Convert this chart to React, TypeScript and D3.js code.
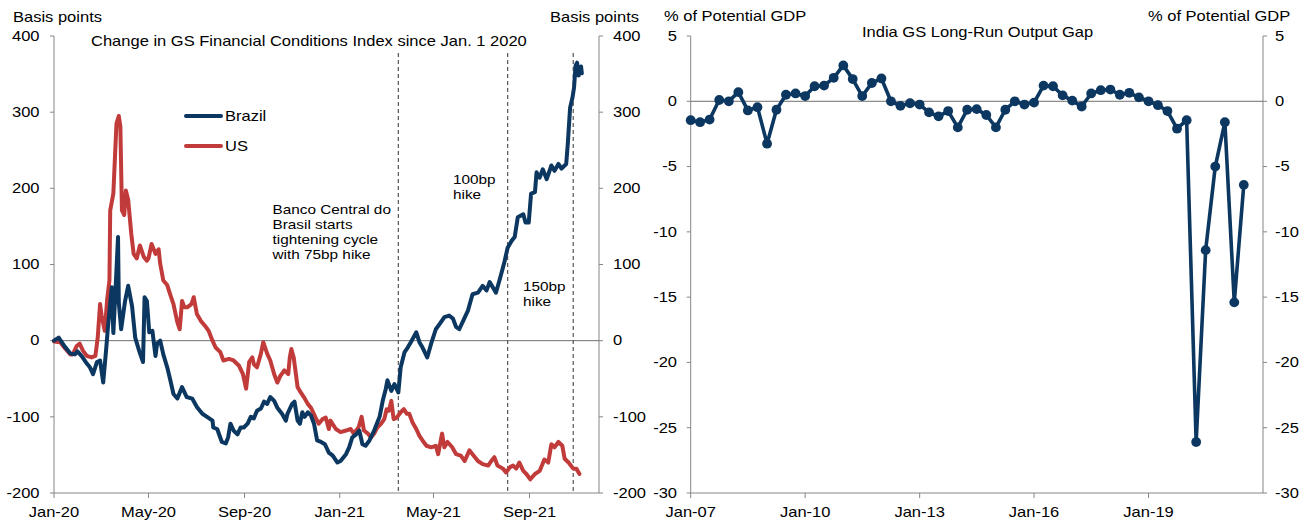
import React from "react";
import * as d3 from "d3";

// ---------- Left chart data (change in GS FCI since Jan. 1 2020, bp) ----------
const brazilSeries: [string, number][] = [
  ["2020-01-01", 0], ["2020-01-07", 4], ["2020-01-15", -8], ["2020-01-22", -17], ["2020-01-28", -18], ["2020-01-31", -14],
  ["2020-02-06", -21], ["2020-02-12", -30], ["2020-02-16", -35], ["2020-02-20", -44], ["2020-02-25", -28], ["2020-02-29", -26],
  ["2020-03-04", -55], ["2020-03-08", -9], ["2020-03-10", 17], ["2020-03-15", 70], ["2020-03-17", 10], ["2020-03-21", 92],
  ["2020-03-23", 136], ["2020-03-24", 50], ["2020-03-27", 15], ["2020-04-01", 52], ["2020-04-05", 72], ["2020-04-10", 45],
  ["2020-04-14", 4], ["2020-04-19", -13], ["2020-04-24", -28], ["2020-04-26", 57], ["2020-04-29", 52], ["2020-05-02", 11],
  ["2020-05-06", 13], ["2020-05-10", -20], ["2020-05-12", -4], ["2020-05-16", 0], ["2020-05-20", -18], ["2020-05-25", -35],
  ["2020-05-29", -52], ["2020-06-02", -70], ["2020-06-07", -76], ["2020-06-13", -61], ["2020-06-19", -74], ["2020-06-26", -76],
  ["2020-07-02", -87], ["2020-07-09", -96], ["2020-07-15", -100], ["2020-07-22", -105], ["2020-07-23", -114], ["2020-07-28", -116],
  ["2020-08-03", -133], ["2020-08-08", -135], ["2020-08-11", -127], ["2020-08-14", -109], ["2020-08-18", -118], ["2020-08-23", -123],
  ["2020-08-27", -114], ["2020-08-31", -114], ["2020-09-05", -109], ["2020-09-09", -100], ["2020-09-13", -102], ["2020-09-17", -92],
  ["2020-09-22", -89], ["2020-09-26", -80], ["2020-09-30", -83], ["2020-10-04", -74], ["2020-10-09", -79], ["2020-10-13", -88],
  ["2020-10-19", -96], ["2020-10-24", -105], ["2020-10-26", -96], ["2020-11-01", -83], ["2020-11-04", -80], ["2020-11-08", -105],
  ["2020-11-11", -109], ["2020-11-14", -94], ["2020-11-17", -100], ["2020-11-21", -94], ["2020-11-25", -98], ["2020-11-29", -109],
  ["2020-12-03", -131], ["2020-12-08", -133], ["2020-12-13", -136], ["2020-12-18", -147], ["2020-12-23", -151], ["2020-12-29", -160],
  ["2021-01-02", -158], ["2021-01-09", -149], ["2021-01-13", -140], ["2021-01-17", -127], ["2021-01-22", -123], ["2021-01-26", -118],
  ["2021-01-30", -136], ["2021-02-03", -138], ["2021-02-08", -131], ["2021-02-14", -118], ["2021-02-21", -100], ["2021-02-25", -79],
  ["2021-03-01", -63], ["2021-03-03", -52], ["2021-03-08", -66], ["2021-03-12", -57], ["2021-03-17", -68], ["2021-03-20", -35],
  ["2021-03-25", -15], ["2021-03-29", -9], ["2021-04-02", -2], ["2021-04-09", 11], ["2021-04-13", -2], ["2021-04-17", -9],
  ["2021-04-23", -22], ["2021-04-28", -4], ["2021-05-04", 15], ["2021-05-09", 22], ["2021-05-15", 31], ["2021-05-21", 33],
  ["2021-05-26", 29], ["2021-05-30", 18], ["2021-06-03", 15], ["2021-06-08", 26], ["2021-06-14", 39], ["2021-06-20", 61],
  ["2021-06-27", 63], ["2021-07-03", 72], ["2021-07-08", 66], ["2021-07-12", 77], ["2021-07-16", 70], ["2021-07-20", 63],
  ["2021-07-25", 81], ["2021-07-29", 96], ["2021-07-31", 104], ["2021-08-04", 122], ["2021-08-09", 131], ["2021-08-13", 136],
  ["2021-08-17", 162], ["2021-08-24", 166], ["2021-08-27", 155], ["2021-08-31", 155], ["2021-09-03", 193], ["2021-09-08", 195],
  ["2021-09-10", 221], ["2021-09-14", 214], ["2021-09-18", 225], ["2021-09-23", 212], ["2021-09-29", 230], ["2021-10-03", 223],
  ["2021-10-08", 232], ["2021-10-12", 226], ["2021-10-18", 232], ["2021-10-20", 258], ["2021-10-23", 306], ["2021-10-26", 319],
  ["2021-10-28", 332], ["2021-10-30", 361], ["2021-11-01", 365], ["2021-11-03", 348], ["2021-11-06", 360], ["2021-11-07", 351],
];

const usSeries: [string, number][] = [
  ["2020-01-01", -1], ["2020-01-09", -2], ["2020-01-15", -10], ["2020-01-22", -18], ["2020-01-25", -18], ["2020-01-30", -7],
  ["2020-02-03", -4], ["2020-02-07", -13], ["2020-02-12", -20], ["2020-02-18", -22], ["2020-02-23", -20], ["2020-02-26", 4],
  ["2020-02-29", 48], ["2020-03-02", 33], ["2020-03-06", 13], ["2020-03-09", 53], ["2020-03-12", 79], ["2020-03-13", 171],
  ["2020-03-17", 193], ["2020-03-21", 285], ["2020-03-24", 295], ["2020-03-26", 281], ["2020-03-28", 171], ["2020-03-31", 165],
  ["2020-04-02", 197], ["2020-04-05", 185], ["2020-04-09", 140], ["2020-04-12", 114], ["2020-04-16", 108], ["2020-04-20", 125],
  ["2020-04-25", 110], ["2020-04-29", 105], ["2020-05-01", 108], ["2020-05-05", 127], ["2020-05-10", 114], ["2020-05-14", 120],
  ["2020-05-16", 101], ["2020-05-20", 79], ["2020-05-25", 73], ["2020-05-29", 60], ["2020-06-02", 48], ["2020-06-07", 24],
  ["2020-06-10", 15], ["2020-06-13", 52], ["2020-06-16", 44], ["2020-06-20", 44], ["2020-06-25", 48], ["2020-06-28", 57],
  ["2020-07-02", 35], ["2020-07-07", 26], ["2020-07-12", 20], ["2020-07-17", 13], ["2020-07-22", 0], ["2020-07-26", -9],
  ["2020-08-01", -15], ["2020-08-05", -26], ["2020-08-12", -24], ["2020-08-18", -26], ["2020-08-25", -33], ["2020-08-30", -44],
  ["2020-09-03", -63], ["2020-09-07", -28], ["2020-09-11", -22], ["2020-09-13", -31], ["2020-09-17", -35], ["2020-09-22", -17],
  ["2020-09-25", -2], ["2020-09-30", -17], ["2020-10-04", -26], ["2020-10-09", -44], ["2020-10-13", -55], ["2020-10-17", -46],
  ["2020-10-22", -39], ["2020-10-27", -44], ["2020-10-29", -22], ["2020-10-31", -11], ["2020-11-03", -22], ["2020-11-08", -61],
  ["2020-11-12", -68], ["2020-11-16", -74], ["2020-11-21", -83], ["2020-11-25", -88], ["2020-12-01", -101], ["2020-12-05", -109],
  ["2020-12-10", -103], ["2020-12-14", -101], ["2020-12-18", -116], ["2020-12-20", -105], ["2020-12-27", -116],
  ["2021-01-02", -120], ["2021-01-09", -118], ["2021-01-15", -116], ["2021-01-19", -122], ["2021-01-25", -114], ["2021-01-29", -100],
  ["2021-02-01", -118], ["2021-02-06", -122], ["2021-02-10", -127], ["2021-02-14", -122], ["2021-02-18", -114], ["2021-02-23", -109],
  ["2021-02-27", -103], ["2021-03-02", -90], ["2021-03-05", -92], ["2021-03-08", -79], ["2021-03-11", -103], ["2021-03-15", -101],
  ["2021-03-20", -94], ["2021-03-24", -90], ["2021-03-28", -96], ["2021-03-31", -96], ["2021-04-04", -107], ["2021-04-09", -116],
  ["2021-04-13", -125], ["2021-04-17", -131], ["2021-04-22", -138], ["2021-04-28", -140], ["2021-05-04", -138], ["2021-05-07", -149],
  ["2021-05-12", -122], ["2021-05-15", -140], ["2021-05-19", -133], ["2021-05-25", -140], ["2021-05-30", -149], ["2021-06-05", -151],
  ["2021-06-10", -158], ["2021-06-16", -144], ["2021-06-20", -149], ["2021-06-27", -158], ["2021-07-03", -162], ["2021-07-10", -164],
  ["2021-07-14", -158], ["2021-07-18", -153], ["2021-07-22", -164], ["2021-07-29", -168], ["2021-08-02", -173], ["2021-08-07", -166],
  ["2021-08-11", -164], ["2021-08-15", -168], ["2021-08-19", -160], ["2021-08-24", -171], ["2021-08-28", -175], ["2021-09-02", -182],
  ["2021-09-08", -175], ["2021-09-14", -171], ["2021-09-20", -156], ["2021-09-25", -160], ["2021-09-29", -136], ["2021-10-03", -140],
  ["2021-10-08", -133], ["2021-10-13", -138], ["2021-10-16", -155], ["2021-10-21", -160], ["2021-10-27", -168], ["2021-10-31", -168],
  ["2021-11-04", -175],
];

const hikeDates = ["2021-03-17", "2021-08-04", "2021-10-27"];
const leftYTicks = [-200, -100, 0, 100, 200, 300, 400];
const leftXTicks = ["2020-01-01", "2020-05-01", "2020-09-01", "2021-01-01", "2021-05-01", "2021-09-01"];
const leftXDomain = ["2020-01-01", "2021-11-29"];
const leftTitle = "Change in GS Financial Conditions Index since Jan. 1 2020";
const leftAxisTitle = "Basis points";
const bcbNote = ["Banco Central do", "Brasil starts", "tightening cycle", "with 75bp hike"];
const hike100Note = ["100bp", "hike"];
const hike150Note = ["150bp", "hike"];

// ---------- Right chart data (India GS long-run output gap, % of potential GDP), quarterly from 2007Q1 ----------
const indiaStart = "2007-01-01";
const indiaGap = [
  -1.45, -1.6, -1.4, 0.1, 0.0, 0.7, -0.7, -0.45, -3.25, -0.65,
  0.5, 0.6, 0.4, 1.15, 1.2, 1.8, 2.75, 1.7, 0.4, 1.4,
  1.75, 0.0, -0.35, -0.15, -0.25, -0.85, -1.15, -0.75, -2.0, -0.65,
  -0.6, -1.05, -2.0, -0.65, 0.0, -0.25, -0.1, 1.2, 1.15, 0.45,
  0.05, -0.4, 0.6, 0.85, 0.9, 0.5, 0.65, 0.3, 0.0, -0.3,
  -0.75, -2.1, -1.45, -26.1, -11.4, -5.0, -1.6, -15.4, -6.4,
];
const rightYTicks = [-30, -25, -20, -15, -10, -5, 0, 5];
const rightXTicks = ["2007-01-01", "2010-01-01", "2013-01-01", "2016-01-01", "2019-01-01"];
const rightXDomain = ["2007-01-01", "2022-01-01"];
const rightTitle = "India GS Long-Run Output Gap";
const rightAxisTitle = "% of Potential GDP";

// ---------- styling ----------
const NAVY = "#0b3760";
const RED = "#c23b3b";
const AXIS = "#868686";
const FONT = "'Liberation Sans', Arial, Helvetica, sans-serif";
const SX = 1.18;
const FS = 14;

const parse = d3.timeParse("%Y-%m-%d");
const fmt = d3.timeFormat("%b-%y");

function T({ x, y, anchor = "start", size = FS, children }: any) {
  return (
    <text
      transform={`translate(${x},${y}) scale(${SX},1)`}
      textAnchor={anchor}
      fontSize={size}
      fill="#000"
    >
      {children}
    </text>
  );
}

function LeftChart() {
  const L = 54, R = 599, TOP = 36, BOT = 493;
  const x = d3.scaleTime().domain(leftXDomain.map((d) => parse(d)!)).range([L, R]);
  const y = d3.scaleLinear().domain([-200, 400]).range([BOT, TOP]);
  const line = d3
    .line<[string, number]>()
    .x((d) => x(parse(d[0])!))
    .y((d) => y(d[1]));
  return (
    <g>
      <T x={13} y={22}>{leftAxisTitle}</T>
      <T x={550} y={22}>{leftAxisTitle}</T>
      <T x={91} y={46}>{leftTitle}</T>

      {/* axes */}
      <line x1={L} x2={L} y1={TOP} y2={BOT} stroke={AXIS} />
      <line x1={R} x2={R} y1={TOP} y2={BOT} stroke={AXIS} />
      <line x1={L} x2={R} y1={BOT} y2={BOT} stroke={AXIS} />
      <line x1={L} x2={R} y1={y(0)} y2={y(0)} stroke="#707070" />
      {leftYTicks.map((t) => (
        <g key={t}>
          <line x1={L - 4} x2={L} y1={y(t)} y2={y(t)} stroke={AXIS} />
          <line x1={R} x2={R + 4} y1={y(t)} y2={y(t)} stroke={AXIS} />
          <T x={39.5} y={y(t) + 4.8} anchor="end">{t}</T>
          <T x={613} y={y(t) + 4.8}>{t}</T>
        </g>
      ))}
      {leftXTicks.map((t) => {
        const xx = x(parse(t)!);
        return (
          <g key={t}>
            <line x1={xx} x2={xx} y1={BOT} y2={BOT + 5} stroke={AXIS} />
            <T x={xx} y={517} anchor="middle">{fmt(parse(t)!)}</T>
          </g>
        );
      })}

      {/* hike markers */}
      {hikeDates.map((d) => {
        const xx = x(parse(d)!);
        return (
          <line key={d} x1={xx} x2={xx} y1={53} y2={BOT} stroke="#555" strokeWidth={1.2} strokeDasharray="4,3" />
        );
      })}

      {/* series */}
      <path d={line(usSeries)!} fill="none" stroke={RED} strokeWidth={4} strokeLinejoin="round" strokeLinecap="round" />
      <path d={line(brazilSeries)!} fill="none" stroke={NAVY} strokeWidth={4} strokeLinejoin="round" strokeLinecap="round" />

      {/* legend */}
      <line x1={186} x2={221} y1={116} y2={116} stroke={NAVY} strokeWidth={4} strokeLinecap="round" />
      <T x={225} y={121}>Brazil</T>
      <line x1={186} x2={221} y1={146} y2={146} stroke={RED} strokeWidth={4} strokeLinecap="round" />
      <T x={225} y={151}>US</T>

      {/* annotations */}
      {bcbNote.map((s, i) => (
        <T key={s} x={272.5} y={214.3 + i * 15} size={13}>{s}</T>
      ))}
      {hike100Note.map((s, i) => (
        <T key={s} x={453} y={183.5 + i * 15} size={13}>{s}</T>
      ))}
      {hike150Note.map((s, i) => (
        <T key={s} x={523} y={290.7 + i * 15} size={13}>{s}</T>
      ))}
    </g>
  );
}

function RightChart() {
  const L = 690.7, R = 1263, TOP = 36, BOT = 493;
  const x = d3.scaleTime().domain(rightXDomain.map((d) => parse(d)!)).range([L, R]);
  const y = d3.scaleLinear().domain([-30, 5]).range([BOT, TOP]);
  const start = parse(indiaStart)!;
  const pts = indiaGap.map((v, i) => ({ date: d3.timeMonth.offset(start, i * 3), v }));
  const line = d3
    .line<{ date: Date; v: number }>()
    .x((d) => x(d.date))
    .y((d) => y(d.v));
  return (
    <g>
      <T x={664} y={21}>{rightAxisTitle}</T>
      <T x={1148} y={21}>{rightAxisTitle}</T>
      <T x={862} y={36.5}>{rightTitle}</T>

      <line x1={L} x2={L} y1={TOP} y2={BOT} stroke={AXIS} />
      <line x1={R} x2={R} y1={TOP} y2={BOT} stroke={AXIS} />
      <line x1={L} x2={R} y1={BOT} y2={BOT} stroke={AXIS} />
      <line x1={L} x2={R} y1={y(0)} y2={y(0)} stroke="#707070" />
      {rightYTicks.map((t) => (
        <g key={t}>
          <line x1={L - 4} x2={L} y1={y(t)} y2={y(t)} stroke={AXIS} />
          <line x1={R} x2={R + 4} y1={y(t)} y2={y(t)} stroke={AXIS} />
          <T x={677} y={y(t) + 4.8} anchor="end">{t}</T>
          <T x={1275} y={y(t) + 4.8}>{t}</T>
        </g>
      ))}
      {rightXTicks.map((t) => {
        const xx = x(parse(t)!);
        return (
          <g key={t}>
            <line x1={xx} x2={xx} y1={BOT} y2={BOT + 5} stroke={AXIS} />
            <T x={xx} y={517} anchor="middle">{fmt(parse(t)!)}</T>
          </g>
        );
      })}

      <path d={line(pts)!} fill="none" stroke={NAVY} strokeWidth={3.6} strokeLinejoin="round" />
      {pts.map((p, i) => (
        <circle key={i} cx={x(p.date)} cy={y(p.v)} r={4.9} fill={NAVY} />
      ))}
    </g>
  );
}

export default function App() {
  return (
    <svg
      width={1309}
      height={525}
      style={{ position: "absolute", left: 0, top: 0, background: "#fff" }}
      fontFamily={FONT}
    >
      <rect width={1309} height={525} fill="#fff" />
      <LeftChart />
      <RightChart />
    </svg>
  );
}
